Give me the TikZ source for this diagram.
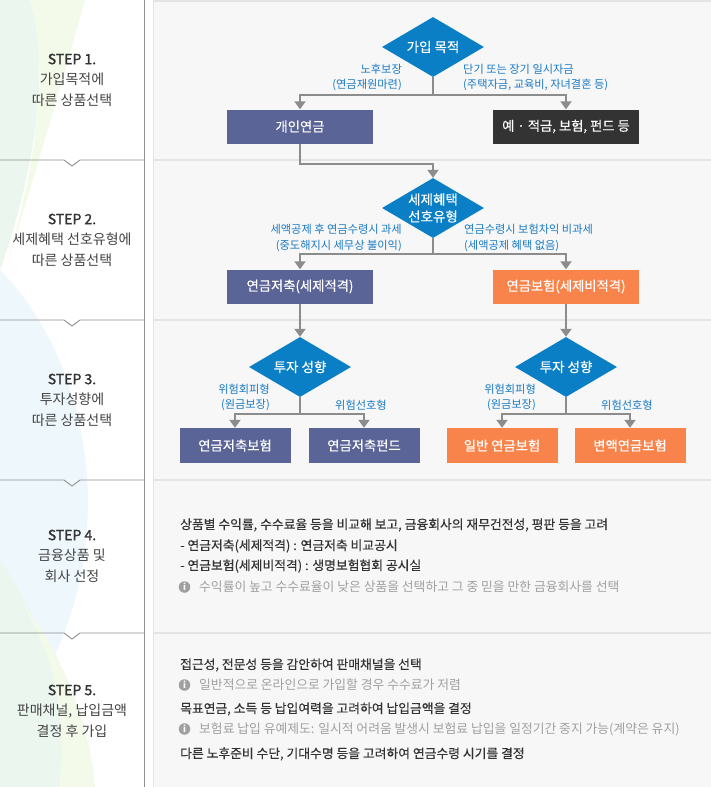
\documentclass[tikz,border=0pt]{standalone}
\usepackage{fontspec}
\setmainfont{Noto Sans CJK KR}
\newfontfamily\krmed{Noto Sans CJK KR}[FakeBold=0.35]
\newfontfamily\krstep{Noto Sans CJK KR}[FakeBold=1.6]
\usetikzlibrary{shapes.geometric,arrows.meta}
\definecolor{dblue}{HTML}{0A7FC5}
\definecolor{lblue}{HTML}{1A7AC4}
\definecolor{slate}{HTML}{5A6497}
\definecolor{orng}{HTML}{F8834B}
\definecolor{darkbox}{HTML}{333333}
\definecolor{conn}{HTML}{8C8C8C}
\definecolor{panelbg}{HTML}{F7F7F7}
\definecolor{pline}{HTML}{E4E4E4}
\definecolor{sepl}{HTML}{8F8F8F}
\definecolor{infog}{HTML}{A0A0A0}
\definecolor{bodytxt}{HTML}{333333}
\definecolor{steptxt}{HTML}{444444}
\definecolor{stephead}{HTML}{333333}
\definecolor{wgreen}{HTML}{EAF6EE}
\definecolor{wyellow}{HTML}{F4FAEA}
\definecolor{wblue}{HTML}{EEF7FC}
\tikzset{
  decision/.style={diamond, aspect=1.7, fill=dblue, text=white, inner sep=0pt,
    minimum width=102pt, minimum height=60pt, align=center,
    font=\krmed\fontsize{13.5}{17}\selectfont},
  bigbox/.style={rectangle, text=white, inner sep=0pt, minimum width=146pt,
    minimum height=34pt, font=\krmed\fontsize{13.3}{15}\selectfont},
  smallbox/.style={rectangle, text=white, inner sep=0pt, minimum width=111pt,
    minimum height=35pt, font=\krmed\fontsize{13.3}{15}\selectfont},
  flow/.style={draw=conn, line width=2pt},
  arr/.style={draw=conn, line width=2pt, -{Triangle[width=11pt,length=8pt]}},
  lbl/.style={text=lblue, inner sep=0pt, font=\fontsize{11.2}{15.5}\selectfont},
  stepnode/.style={text=steptxt, align=center, inner sep=0pt,
    font=\fontsize{14}{20.5}\selectfont},
  bodyline/.style={text=bodytxt, anchor=west, inner sep=0pt,
    font=\krmed\fontsize{12.8}{15}\selectfont},
  infoline/.style={text=infog, anchor=west, inner sep=0pt,
    font=\fontsize{12.8}{15}\selectfont},
  infoicon/.style={circle, fill=infog, text=white, inner sep=0pt,
    minimum size=11.5pt, font=\fontsize{9}{9}\selectfont\bfseries},
}
\newcommand{\stephd}[1]{{\krstep\color{stephead}#1}}
\begin{document}
\begin{tikzpicture}[x=1pt,y=-1pt]
\useasboundingbox (0,0) rectangle (711,787);
\fill[white] (0,0) rectangle (711,787);
% decorative waves in left column
\fill[wgreen] (0,0) -- (30,0) .. controls (55,80) and (25,200) .. (0,270) -- cycle;
\fill[wyellow] (30,0) -- (85,0) .. controls (60,90) and (30,190) .. (8,262) .. controls (25,200) and (55,80) .. (30,0) -- cycle;
\fill[wblue] (0,270) .. controls (70,340) and (110,470) .. (75,600) .. controls (55,670) and (20,720) .. (0,740) -- cycle;
\fill[wgreen] (0,560) .. controls (40,620) and (70,690) .. (60,787) -- (0,787) -- cycle;
\fill[wyellow] (60,787) .. controls (70,700) and (45,640) .. (20,600) .. controls (60,650) and (90,720) .. (95,787) -- cycle;
% right panel
\fill[panelbg] (153,0) rectangle (711,787);
\draw[pline, line width=1.5pt] (153.5,0) -- (153.5,787);
\foreach \yy in {0.75,160,320,480,633} {\draw[pline, line width=1.5pt] (153,\yy) -- (711,\yy);}
% left column
\draw[sepl, line width=1pt] (144,0) -- (144,787);
\foreach \yy in {160,320,480,633} {\draw[sepl, line width=0.9pt] (0,\yy) -- (64,\yy) -- (72,\yy+6) -- (80,\yy) -- (144,\yy);}
\node[stepnode] (s1) at (72,80) {\stephd{STEP 1.}\\가입목적에\\따른 상품선택};
\node[stepnode] (s2) at (72,240) {\stephd{STEP 2.}\\세제혜택 선호유형에\\따른 상품선택};
\node[stepnode] (s3) at (72,400) {\stephd{STEP 3.}\\투자성향에\\따른 상품선택};
\node[stepnode] (s4) at (72,556) {\stephd{STEP 4.}\\금융상품 및\\회사 선정};
\node[stepnode] (s5) at (72,711) {\stephd{STEP 5.}\\판매채널, 납입금액\\결정 후 가입};
% step 1
\node[decision] (d1) at (433,47) {가입 목적};
\node[bigbox, fill=slate] (b11) at (300,126.5) {개인연금};
\node[bigbox, fill=darkbox] (b12) at (566,126.5) {예 · 적금, 보험, 펀드 등};
\draw[flow] (d1.south) -- ++(0,18) coordinate (j1);
\draw[arr] (j1) -| (b11.north);
\draw[arr] (j1) -| (b12.north);
\node[lbl, anchor=east, align=right] (l11) at (402,77.5) {노후보장\\(연금재원마련)};
\node[lbl, anchor=west, align=left] (l12) at (463,77.5) {단기 또는 장기 일시자금\\(주택자금, 교육비, 자녀결혼 등)};
% step 2
\node[decision] (d2) at (433,208) {세제혜택\\선호유형};
\draw[arr] (b11.south) -- ++(0,20.5) -| (d2.north);
\node[bigbox, fill=slate] (b21) at (300,286.5) {연금저축(세제적격)};
\node[bigbox, fill=orng] (b22) at (566,286.5) {연금보험(세제비적격)};
\draw[flow] (d2.south) -- ++(0,16) coordinate (j2);
\draw[arr] (j2) -| (b21.north);
\draw[arr] (j2) -| (b22.north);
\node[lbl, anchor=east, align=right] (l21) at (402,238) {세액공제 후 연금수령시 과세\\(중도해지시 세무상 불이익)};
\node[lbl, anchor=west, align=left] (l22) at (464,238) {연금수령시 보험차익 비과세\\(세액공제 혜택 없음)};
% step 3
\node[decision] (d3) at (300,367) {투자 성향};
\node[decision] (d4) at (566,367) {투자 성향};
\draw[arr] (b21.south) -- (d3.north);
\draw[arr] (b22.south) -- (d4.north);
\node[smallbox, fill=slate] (b31) at (235,445.5) {연금저축보험};
\node[smallbox, fill=slate] (b32) at (364,445.5) {연금저축펀드};
\node[smallbox, fill=orng] (b33) at (502,445.5) {일반 연금보험};
\node[smallbox, fill=orng] (b34) at (630,445.5) {변액연금보험};
\draw[flow] (d3.south) -- ++(0,17) coordinate (j3);
\draw[arr] (j3) -| (b31.north);
\draw[arr] (j3) -| (b32.north);
\draw[flow] (d4.south) -- ++(0,17) coordinate (j4);
\draw[arr] (j4) -| (b33.north);
\draw[arr] (j4) -| (b34.north);
\node[lbl, anchor=east, align=right] (l31) at (270,397.5) {위험회피형\\(원금보장)};
\node[lbl] (l32) at (361,405) {위험선호형};
\node[lbl, anchor=east, align=right] (l33) at (536,397.5) {위험회피형\\(원금보장)};
\node[lbl] (l34) at (627,405) {위험선호형};
% step 4
\node[bodyline] (t41) at (180,525) {상품별 수익률, 수수료율 등을 비교해 보고, 금융회사의 재무건전성, 평판 등을 고려};
\node[bodyline] (t42) at (180,546) {- 연금저축(세제적격) : 연금저축 비교공시};
\node[bodyline] (t43) at (180,566) {- 연금보험(세제비적격) : 생명보험협회 공시실};
\node[infoicon] (i41) at (184.5,587) {i};
\node[infoline] (t44) at (199,587) {수익률이 높고 수수료율이 낮은 상품을 선택하고 그 중 믿을 만한 금융회사를 선택};
% step 5
\node[bodyline] (t51) at (180,665) {접근성, 전문성 등을 감안하여 판매채널을 선택};
\node[infoicon] (i51) at (184.5,685) {i};
\node[infoline] (t52) at (199,685) {일반적으로 온라인으로 가입할 경우 수수료가 저렴};
\node[bodyline] (t53) at (180,709) {목표연금, 소득 등 납입여력을 고려하여 납입금액을 결정};
\node[infoicon] (i52) at (184.5,729) {i};
\node[infoline] (t54) at (199,729) {보험료 납입 유예제도: 일시적 어려움 발생시 보험료 납입을 일정기간 중지 가능(계약은 유지)};
\node[bodyline] (t55) at (180,754) {다른 노후준비 수단, 기대수명 등을 고려하여 연금수령 시기를 결정};
\end{tikzpicture}
\end{document}
